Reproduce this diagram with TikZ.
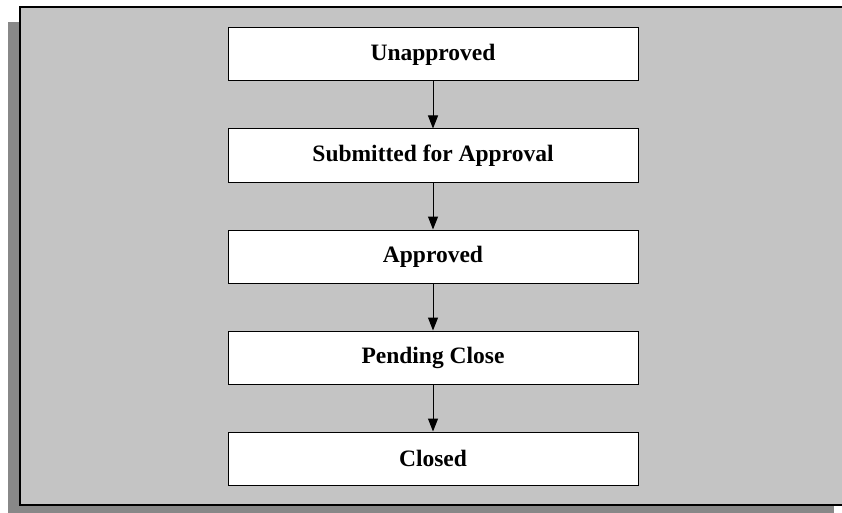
\documentclass[tikz,border=0pt]{standalone}
\usepackage{fontspec}
\setmainfont{Liberation Serif}
\usetikzlibrary{arrows.meta}

\definecolor{panelgray}{RGB}{196,196,196}
\definecolor{shadowgray}{RGB}{136,136,136}

\tikzset{
  statebox/.style={draw=black, line width=1pt, fill=white,
    minimum width=410pt, minimum height=53pt, inner sep=0pt,
    font=\fontsize{23.5}{27}\selectfont\bfseries},
  flow/.style={line width=1pt, -{Triangle[length=13pt,width=10pt]}}
}

\begin{document}
\begin{tikzpicture}[x=1pt,y=-1pt]
  \useasboundingbox (0,0) rectangle (842,513);
  \clip (0,0) rectangle (842,513);

  % drop shadow and grey panel
  \fill[shadowgray] (8,22) rectangle (834,530);
  \draw[line width=2.5pt, fill=panelgray] (20,7) rectangle (848,505);

  % workflow states
  \node[statebox] (s1) at (433,54.5)  {Unapproved};
  \node[statebox] (s2) at (433,155.5) {Submitted for Approval};
  \node[statebox] (s3) at (433,256.5) {Approved};
  \node[statebox] (s4) at (433,357.5) {Pending Close};
  \node[statebox] (s5) at (433,458.5) {Closed};

  % transitions
  \draw[flow] (s1) -- (s2);
  \draw[flow] (s2) -- (s3);
  \draw[flow] (s3) -- (s4);
  \draw[flow] (s4) -- (s5);
\end{tikzpicture}
\end{document}
